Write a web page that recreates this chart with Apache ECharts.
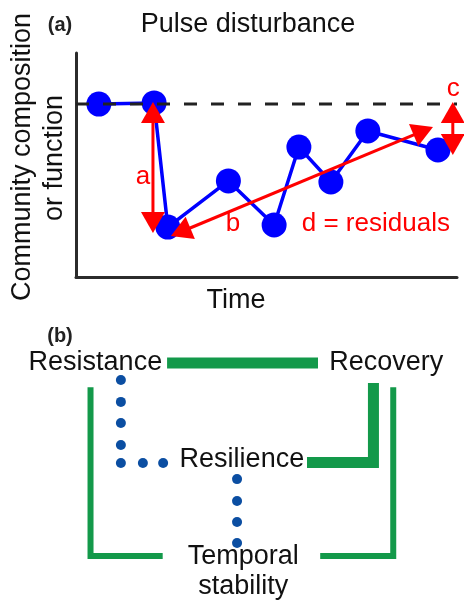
<!DOCTYPE html>
<html>
<head>
<meta charset="utf-8">
<script src="https://cdn.jsdelivr.net/npm/echarts@6/dist/echarts.min.js"></script>
<style>
html, body { margin: 0; padding: 0; background: #fff; }
#chart { width: 464px; height: 603px; }
</style>
</head>
<body>
<div id="chart"></div>
<script>
// (a) pulse disturbance: time vs community composition (arbitrary units 0-100)
const timePoints = [6, 20.5, 24.1, 40, 52, 58.5, 66.9, 76.6, 95];
const responseValues = [77.2, 77.7, 22.3, 42.9, 23.2, 58, 42.4, 65.2, 56.7];
const baselineValue = 77.2;
const baselineRange = [0, 100];

// double headed arrows [x1, y1, x2, y2]
const arrowA = [20.2, 78.1, 20.2, 19.6];
const arrowB = [24.9, 18.3, 93.7, 67];
const arrowC = [98.9, 78.1, 98.9, 54.5];

const annotationText = ["a", "b", "d = residuals", "c"];
const annotationX = [17.6, 41.2, 78.7, 99];
const annotationY = [44.6, 23.7, 23.7, 84];

// (b) concept diagram (arbitrary units 0-100)
const nodeNames = ["Resistance", "Recovery", "Resilience", "Temporal\nstability"];
const nodeX = [19.4, 85.5, 52.7, 53];
const nodeY = [91.5, 91.5, 54.2, 11];

const strongLinks = [
    [[35.7, 91.2], [70, 91.2]],
    [[67.5, 52.9], [82.6, 52.9], [82.6, 83.5]]
];
const weakLinks = [
    [[18.3, 81.8], [18.3, 16.9], [34.7, 16.9]],
    [[87.1, 81.8], [87.1, 16.9], [70.5, 16.9]]
];
const dotX = [25.2, 25.2, 25.2, 25.2, 25.2, 30.2, 34.8, 51.6, 51.6, 51.6, 51.6];
const dotY = [84.6, 76.2, 68.1, 59.6, 52.7, 52.7, 52.7, 46.5, 38.1, 30, 21.9];

const FONT = "Liberation Sans, Arial, sans-serif";
const RED = "#ff0000";
const GREEN = "#13994a";

function arrowItem(params, api) {
    const p1 = api.coord([api.value(0), api.value(1)]);
    const p2 = api.coord([api.value(2), api.value(3)]);
    const dx = p2[0] - p1[0], dy = p2[1] - p1[1];
    const len = Math.sqrt(dx * dx + dy * dy);
    const ux = dx / len, uy = dy / len;
    const headLen = 21, headW = 12;
    const head = (tip, s) => {
        const bx = tip[0] - s * ux * headLen, by = tip[1] - s * uy * headLen;
        return {
            type: "polygon",
            shape: { points: [tip, [bx - uy * headW, by + ux * headW], [bx + uy * headW, by - ux * headW]] },
            style: { fill: RED }
        };
    };
    return {
        type: "group",
        children: [
            {
                type: "line",
                shape: {
                    x1: p1[0] + ux * headLen * 0.9, y1: p1[1] + uy * headLen * 0.9,
                    x2: p2[0] - ux * headLen * 0.9, y2: p2[1] - uy * headLen * 0.9
                },
                style: { stroke: RED, lineWidth: 3 }
            },
            head(p1, -1),
            head(p2, 1)
        ]
    };
}

function textItem(color, size) {
    return function (params, api) {
        const p = api.coord([api.value(0), api.value(1)]);
        return {
            type: "text",
            x: p[0], y: p[1],
            style: {
                text: api.value(2),
                fill: color,
                font: size + "px " + FONT,
                align: "center",
                verticalAlign: "middle",
                lineHeight: 30
            }
        };
    };
}

function polylineItem(width) {
    return function (params, api) {
        const pts = (params.dataIndex >= 0 ? this.links[params.dataIndex] : []).map(p => api.coord(p));
        return {
            type: "polyline",
            shape: { points: pts },
            style: { stroke: GREEN, lineWidth: width, fill: null, lineJoin: "miter", lineCap: "butt" }
        };
    };
}

const hiddenAxis = { show: false, type: "value", min: 0, max: 100 };
const visibleAxis = {
    type: "value", min: 0, max: 100,
    axisLine: { show: true, onZero: false, lineStyle: { color: "#2b2b2b", width: 3 } },
    axisTick: { show: false }, axisLabel: { show: false }, splitLine: { show: false }
};

const chart = echarts.init(document.getElementById("chart"));
chart.setOption({
    animation: false,
    grid: [
        { left: 76, top: 53, width: 381, height: 224 },
        { left: 10, top: 340, width: 440, height: 260 }
    ],
    xAxis: [
        Object.assign({ gridIndex: 0 }, visibleAxis),
        Object.assign({ gridIndex: 1 }, hiddenAxis)
    ],
    yAxis: [
        Object.assign({ gridIndex: 0 }, visibleAxis),
        Object.assign({ gridIndex: 1 }, hiddenAxis)
    ],
    graphic: [
        { type: "text", x: 60, y: 25, style: { text: "(a)", font: "bold 20px " + FONT, fill: "#222", align: "center", verticalAlign: "middle" } },
        { type: "text", x: 248, y: 25, style: { text: "Pulse disturbance", font: "27px " + FONT, fill: "#111", align: "center", verticalAlign: "middle" } },
        { type: "text", x: 236, y: 301, style: { text: "Time", font: "27px " + FONT, fill: "#111", align: "center", verticalAlign: "middle" } },
        { type: "text", x: 23, y: 157, rotation: Math.PI / 2, style: { text: "Community composition", font: "27px " + FONT, fill: "#111", align: "center", verticalAlign: "middle" } },
        { type: "text", x: 55, y: 158, rotation: Math.PI / 2, style: { text: "or function", font: "27px " + FONT, fill: "#111", align: "center", verticalAlign: "middle" } },
        { type: "text", x: 60, y: 336, style: { text: "(b)", font: "bold 20px " + FONT, fill: "#222", align: "center", verticalAlign: "middle" } }
    ],
    series: [
        {
            type: "line", xAxisIndex: 0, yAxisIndex: 0, z: 2,
            data: timePoints.map((t, i) => [t, responseValues[i]]),
            symbol: "circle", symbolSize: 25,
            lineStyle: { color: "#0000ff", width: 3.5 },
            itemStyle: { color: "#0000ff" }
        },
        {
            type: "line", xAxisIndex: 0, yAxisIndex: 0, z: 3,
            data: baselineRange.map(x => [x, baselineValue]),
            symbol: "none",
            lineStyle: { color: "#222", width: 3, type: [13, 14] }
        },
        {
            type: "custom", xAxisIndex: 0, yAxisIndex: 0, z: 4, clip: false,
            data: [arrowA, arrowB, arrowC],
            renderItem: arrowItem
        },
        {
            type: "custom", xAxisIndex: 0, yAxisIndex: 0, z: 5, clip: false,
            data: annotationText.map((t, i) => [annotationX[i], annotationY[i], t]),
            dimensions: ["x", "y", { name: "label", type: "ordinal" }],
            renderItem: textItem(RED, 26)
        },
        {
            type: "custom", xAxisIndex: 1, yAxisIndex: 1, clip: false,
            data: strongLinks.map((l, i) => [i]),
            renderItem: polylineItem(11).bind({ links: strongLinks })
        },
        {
            type: "custom", xAxisIndex: 1, yAxisIndex: 1, clip: false,
            data: weakLinks.map((l, i) => [i]),
            renderItem: polylineItem(6).bind({ links: weakLinks })
        },
        {
            type: "scatter", xAxisIndex: 1, yAxisIndex: 1,
            data: dotX.map((x, i) => [x, dotY[i]]),
            symbol: "circle", symbolSize: 10,
            itemStyle: { color: "#0b4ea2", opacity: 1 }
        },
        {
            type: "custom", xAxisIndex: 1, yAxisIndex: 1, clip: false,
            data: nodeNames.map((n, i) => [nodeX[i], nodeY[i], n]),
            dimensions: ["x", "y", { name: "label", type: "ordinal" }],
            renderItem: textItem("#111", 27)
        }
    ]
});
</script>
</body>
</html>
